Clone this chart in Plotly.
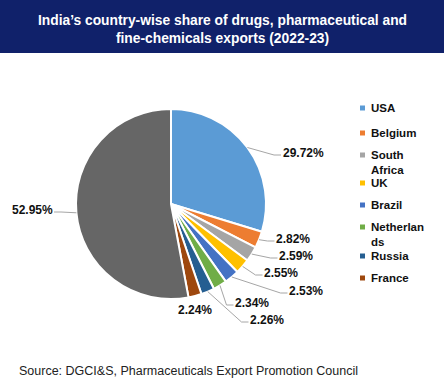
import math
import plotly.graph_objects as go

W, H = 444, 388

# ---- data ----
countries = ["USA", "Belgium", "South Africa", "UK", "Brazil", "Netherlands", "Russia", "France", "Others"]
shares = [29.72, 2.82, 2.59, 2.55, 2.53, 2.34, 2.26, 2.24, 52.95]
legend_text = ["USA", "Belgium", "South<br>Africa", "UK", "Brazil", "Netherlan<br>ds", "Russia", "France"]
colors = ["#5B9BD5", "#ED7D31", "#A5A5A5", "#FFC000", "#4472C4", "#70AD47", "#255E91", "#9E480E", "#666666"]

# ---- layout (pixel positions) ----
cx, cy, R = 171, 204, 95
label_pos = [(303, 153), (293, 239), (296, 256), (281, 273), (306, 291),
             (252, 303), (267, 320), (195, 310), (32, 210)]
label_halfw = [20, 16.5, 16.5, 16.5, 16.5, 16.5, 16.5, 16.5, 20]
draw_leader = [True, True, True, True, True, True, True, False, True]
legend_y = [108, 133, 162, 183, 205, 234, 256, 278]


def px(x):
    return x / W


def py(y):
    return 1 - y / H


fig = go.Figure()
fig.add_trace(go.Pie(
    labels=countries, values=shares, sort=False, direction="clockwise", rotation=0,
    marker=dict(colors=colors, line=dict(color="white", width=2)),
    textinfo="none", hoverinfo="label+percent", showlegend=False,
    domain=dict(x=[px(cx - R), px(cx + R)], y=[py(cy + R), py(cy - R)]),
))

shapes = []
annotations = []

# title bar
shapes.append(dict(type="rect", xref="paper", yref="paper", x0=0, x1=1, y0=py(53), y1=1,
                   fillcolor="#10216A", line=dict(width=0), layer="below"))
annotations.append(dict(
    text="<b>India’s country-wise share of drugs, pharmaceutical and<br>fine-chemicals exports (2022-23)</b>",
    xref="paper", yref="paper", x=0.5, y=py(30), xanchor="center", yanchor="middle",
    showarrow=False, font=dict(family="Arial", size=13.8, color="white"), align="center"))

# data labels with leader lines
total = sum(shares)
cum = 0.0
for i, v in enumerate(shares):
    mid = (cum + v / 2) / total * 2 * math.pi
    cum += v
    ex = cx + R * math.sin(mid)
    ey = cy - R * math.cos(mid)
    lx, ly = label_pos[i]
    annotations.append(dict(
        text=f"<b>{v:.2f}%</b>", xref="paper", yref="paper", x=px(lx), y=py(ly),
        xanchor="center", yanchor="middle", showarrow=False,
        font=dict(family="Arial", size=12, color="#111111")))
    if draw_leader[i]:
        if lx > ex:
            end_x = lx - label_halfw[i] - 2
            elbow_x = end_x - 7
        else:
            end_x = lx + label_halfw[i] + 2
            elbow_x = end_x + 7
        end_y = ly + 2
        path = f"M {px(ex)},{py(ey)} L {px(elbow_x)},{py(end_y)} L {px(end_x)},{py(end_y)}"
        shapes.append(dict(type="path", xref="paper", yref="paper", path=path,
                           line=dict(color="#A6A6A6", width=1)))

# legend
for i, name in enumerate(legend_text):
    y = legend_y[i]
    first_line_y = y - (7 if "<br>" in name else 0)
    shapes.append(dict(type="rect", xref="paper", yref="paper",
                       x0=px(360), x1=px(365), y0=py(first_line_y + 2.5), y1=py(first_line_y - 2.5),
                       fillcolor=colors[i], line=dict(width=0)))
    annotations.append(dict(
        text=f"<b>{name}</b>", xref="paper", yref="paper", x=px(369), y=py(y),
        xanchor="left", yanchor="middle", showarrow=False, align="left",
        font=dict(family="Arial", size=11.5, color="#111111")))

# source
annotations.append(dict(
    text="Source: DGCI&S, Pharmaceuticals Export Promotion Council",
    xref="paper", yref="paper", x=px(17), y=py(371), xanchor="left", yanchor="middle",
    showarrow=False, font=dict(family="Arial", size=12.5, color="#222222")))

fig.update_layout(
    width=W, height=H, margin=dict(l=0, r=0, t=0, b=0),
    paper_bgcolor="white", plot_bgcolor="white",
    shapes=shapes, annotations=annotations, showlegend=False,
)

fig.write_html("out.html", config={"displayModeBar": False},
               post_script="document.body.style.margin='0';document.body.style.padding='0';")
